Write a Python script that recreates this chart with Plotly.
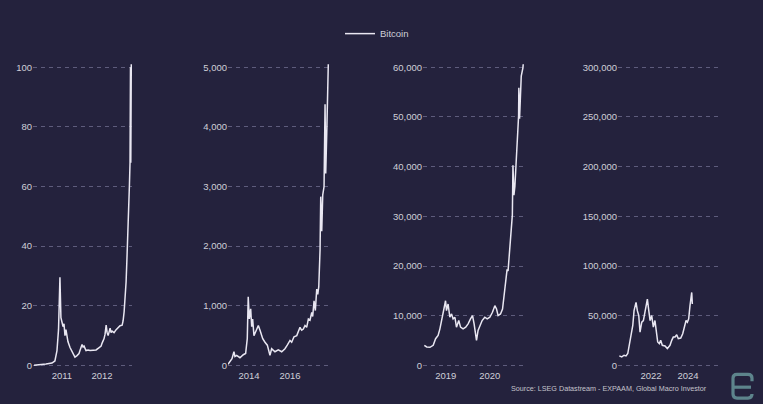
import plotly.graph_objects as go

# ---------------- DATA ----------------
# Panel 1: 2010-2013
p1_dates = ["2010-10-19", "2010-12-12", "2011-02-06", "2011-04-01", "2011-04-28", "2011-05-17",
            "2011-05-31", "2011-06-13", "2011-06-22", "2011-07-02", "2011-07-11", "2011-07-20",
            "2011-07-29", "2011-08-07", "2011-08-16", "2011-08-25", "2011-09-13", "2011-10-01",
            "2011-10-19", "2011-10-28", "2011-11-16", "2011-12-04", "2011-12-13", "2012-01-01",
            "2012-01-10", "2012-01-19", "2012-02-06", "2012-02-25", "2012-03-14", "2012-04-11",
            "2012-05-08", "2012-06-05", "2012-06-23", "2012-07-02", "2012-07-20", "2012-07-29",
            "2012-08-08", "2012-08-17", "2012-08-26", "2012-09-13", "2012-09-22", "2012-10-01",
            "2012-10-19", "2012-11-07", "2012-11-25", "2012-12-13", "2013-01-01", "2013-01-10",
            "2013-01-19", "2013-01-28", "2013-02-06", "2013-02-15", "2013-02-24", "2013-03-05",
            "2013-03-09", "2013-03-14", "2013-03-18", "2013-03-21", "2013-03-23", "2013-03-25",
            "2013-03-28"]
p1_vals = [0.1, 0.2, 0.5, 0.8, 1.5, 5,
           12, 29.6, 16, 14.5, 13, 14,
           10, 12, 9.5, 8, 6, 4.5,
           3.2, 2.8, 3.3, 4, 5, 7,
           6.2, 6.5, 5, 5.2, 5, 5,
           5.2, 6, 6.5, 7.5, 9, 10.5,
           13.5, 11, 10, 12.5, 11, 11.5,
           11, 12, 12.5, 13.3, 13.5, 15,
           18, 22, 28, 37, 45, 55,
           61, 68, 100, 68, 100, 80,
           120]

# Panel 2: 2013-2017
p2_dates = ["2012-12-23", "2013-03-04", "2013-04-08", "2013-04-26", "2013-05-27", "2013-07-24",
            "2013-09-21", "2013-11-02", "2013-12-01", "2013-12-18", "2014-01-06", "2014-01-31",
            "2014-02-18", "2014-03-07", "2014-03-30", "2014-05-17", "2014-06-16", "2014-07-16",
            "2014-09-02", "2014-10-13", "2014-11-23", "2015-01-09", "2015-02-08", "2015-04-08",
            "2015-06-06", "2015-08-06", "2015-10-03", "2015-11-13", "2016-01-01", "2016-01-31",
            "2016-03-12", "2016-04-30", "2016-05-28", "2016-06-27", "2016-07-27", "2016-08-25",
            "2016-09-24", "2016-10-24", "2016-11-23", "2016-12-22", "2017-01-22", "2017-02-08",
            "2017-03-04", "2017-03-27", "2017-04-21", "2017-05-09", "2017-05-27", "2017-06-06",
            "2017-06-19", "2017-07-01", "2017-07-19", "2017-08-06", "2017-08-29", "2017-09-16",
            "2017-09-28", "2017-10-16", "2017-11-03", "2017-11-21"]
p2_vals = [20, 115, 230, 150, 170, 130,
           180, 200, 450, 1150, 780, 950,
           650, 780, 500, 590, 670, 590,
           450, 390, 340, 170, 280, 230,
           260, 230, 280, 340, 420, 390,
           480, 500, 560, 640, 590, 610,
           670, 640, 780, 760, 890, 820,
           1085, 920, 1280, 1190, 1320, 1560,
           1940, 2830, 2250, 2860, 3000, 4380,
           3220, 3880, 4600, 5400]

# Panel 3: 2019-2021
p3_dates = ["2019-01-03", "2019-01-23", "2019-02-19", "2019-03-18", "2019-04-07", "2019-04-28",
            "2019-05-13", "2019-05-27", "2019-06-09", "2019-06-29", "2019-07-07", "2019-07-20",
            "2019-08-04", "2019-08-18", "2019-08-31", "2019-09-15", "2019-09-28", "2019-10-17",
            "2019-11-01", "2019-11-22", "2019-12-14", "2020-01-03", "2020-01-23", "2020-02-09",
            "2020-02-22", "2020-03-13", "2020-03-26", "2020-04-10", "2020-04-29", "2020-05-21",
            "2020-06-10", "2020-07-02", "2020-07-24", "2020-08-13", "2020-08-27", "2020-09-09",
            "2020-09-29", "2020-10-16", "2020-10-29", "2020-11-12", "2020-11-23", "2020-12-01",
            "2020-12-09", "2020-12-21", "2021-01-06", "2021-01-11", "2021-01-19", "2021-01-27",
            "2021-02-17", "2021-02-27", "2021-03-01", "2021-03-07", "2021-03-21", "2021-04-04",
            "2021-04-11"]
p3_vals = [4050, 3720, 3650, 4050, 5380, 6040,
           7370, 9030, 10030, 13020, 11030, 12360,
           9700, 10360, 9370, 9700, 7710, 9030,
           7710, 7370, 7710, 8370, 9370, 10030,
           8370, 5050, 7040, 8040, 9030, 9700,
           9370, 9700, 10700, 12020, 11360, 10030,
           10360, 11360, 14010, 16680, 19330, 19000,
           21330, 25310, 30290, 40260, 34280, 36000,
           46240, 50220, 55860, 49630, 58200, 59850,
           62000]

# Panel 4: 2020-2024
p4_dates = ["2020-04-14", "2020-06-01", "2020-07-17", "2020-08-25", "2020-09-28", "2020-10-30",
            "2020-12-02", "2021-01-05", "2021-01-30", "2021-03-10", "2021-04-05", "2021-05-03",
            "2021-05-28", "2021-07-01", "2021-08-02", "2021-09-04", "2021-10-20", "2021-11-17",
            "2021-12-13", "2022-01-14", "2022-02-15", "2022-03-19", "2022-04-22", "2022-05-12",
            "2022-06-13", "2022-07-10", "2022-08-11", "2022-10-04", "2022-11-18", "2023-01-10",
            "2023-02-13", "2023-03-16", "2023-04-19", "2023-05-23", "2023-06-23", "2023-08-10",
            "2023-09-18", "2023-10-20", "2023-11-23", "2023-12-19", "2024-01-14", "2024-02-09",
            "2024-03-14", "2024-03-26"]
p4_vals = [9670, 8640, 10300, 9670, 11960, 20250,
           30220, 40190, 55140, 63440, 55140, 50170,
           33560, 43530, 45190, 53500, 66780, 55140,
           45190, 50170, 38530, 45190, 33560, 23590,
           21930, 25250, 20250, 19580, 16940, 20250,
           25250, 28570, 28570, 30900, 26900, 27570,
           31900, 38530, 45190, 43530, 46850, 60100,
           73440, 61790]

# Axis settings
x_ranges = [["2010-10-10", "2013-04-01"], ["2012-12-23", "2017-12-13"],
            ["2018-12-23", "2021-04-13"], ["2020-03-19", "2025-08-15"]]
x_tickvals = [["2011-07-01", "2012-07-01"], ["2014-01-01", "2016-01-01"],
              ["2019-07-01", "2020-07-01"], ["2022-01-01", "2024-01-01"]]
x_ticktext = [["2011", "2012"], ["2014", "2016"], ["2019", "2020"], ["2022", "2024"]]
y_max = [100, 5000, 60000, 300000]
y_step = [20, 1000, 10000, 50000]

series_name = "Bitcoin"
source_text = "Source: LSEG Datastream - EXPAAM, Global Macro Investor"

# ---------------- LAYOUT ----------------
W, H = 763, 404
BG = "#24223d"
LINE = "#e9e7f2"
GRID = "#5e5c7c"
TXT = "#cfcfd8"
LOGO = "#5d848c"
FONT = "Liberation Sans, Arial, sans-serif"

x_px = [(33, 132), (228, 330), (423, 524), (618, 718)]
y_top, y_bot = 65, 367
PAD = 0.01  # small range padding so the end gridlines are drawn
pad_px = (y_bot - y_top) * PAD

def px(x):
    return x / W

def py(y):
    return 1 - y / H

panels = [(p1_dates, p1_vals), (p2_dates, p2_vals), (p3_dates, p3_vals), (p4_dates, p4_vals)]

fig = go.Figure()
layout = {}
for i, (d, v) in enumerate(panels):
    n = "" if i == 0 else str(i + 1)
    fig.add_trace(go.Scatter(
        x=d, y=v, mode="lines", name=series_name, showlegend=(i == 0),
        line=dict(color=LINE, width=1.5),
        xaxis="x" + n, yaxis="y" + n,
    ))
    ticks_y = list(range(0, y_max[i] + 1, y_step[i]))
    layout["xaxis" + n] = dict(
        domain=[px(x_px[i][0]), px(x_px[i][1])], anchor="y" + n,
        type="date", range=x_ranges[i], tickvals=x_tickvals[i], ticktext=x_ticktext[i],
        showgrid=False, zeroline=False, showline=False, ticks="",
        tickfont=dict(size=9.5, color=TXT, family=FONT),
    )
    layout["yaxis" + n] = dict(
        domain=[py(y_bot + pad_px), py(y_top - pad_px)], anchor="x" + n,
        range=[-y_max[i] * PAD, y_max[i] * (1 + PAD)], tickvals=ticks_y, tickformat=",d",
        showgrid=True, gridcolor=GRID, griddash="4px,4px", gridwidth=1,
        zeroline=False, showline=False, ticks="",
        tickfont=dict(size=9.5, color=TXT, family=FONT),
    )

fig.update_layout(
    width=W, height=H,
    margin=dict(l=0, r=0, t=0, b=0),
    paper_bgcolor=BG, plot_bgcolor=BG,
    font=dict(family=FONT, color=TXT),
    showlegend=True,
    legend=dict(orientation="h", x=px(340), y=py(31), xanchor="left", yanchor="middle",
                bgcolor="rgba(0,0,0,0)", font=dict(size=9.5, color=TXT, family=FONT)),
    **layout,
)

fig.add_annotation(
    text=source_text, xref="paper", yref="paper", x=px(709), y=py(390),
    xanchor="right", yanchor="middle", showarrow=False,
    font=dict(size=7.2, color="#c4c4cc", family=FONT),
)

# logo (decorative)
logo = ("M {r},{t2} L {r},{t1} Q {r},{t0} {r2},{t0} L {l2},{t0} Q {l},{t0} {l},{t1} "
        "L {l},{b1} Q {l},{b0} {l2},{b0} L {r2},{b0} Q {r},{b0} {r},{b1}").format(
    r=px(752), r2=px(748), l=px(733), l2=px(737),
    t0=py(376), t1=py(380), t2=py(383), b0=py(400), b1=py(396))
fig.add_shape(type="path", path=logo, xref="paper", yref="paper",
              line=dict(color=LOGO, width=3.2))
fig.add_shape(type="line", xref="paper", yref="paper", x0=px(733), x1=px(751),
              y0=py(389), y1=py(389), line=dict(color=LOGO, width=3.2))

fig.write_html(
    "out.html",
    config={"displayModeBar": False},
    post_script="document.body.style.margin='0';document.body.style.overflow='hidden';",
)
